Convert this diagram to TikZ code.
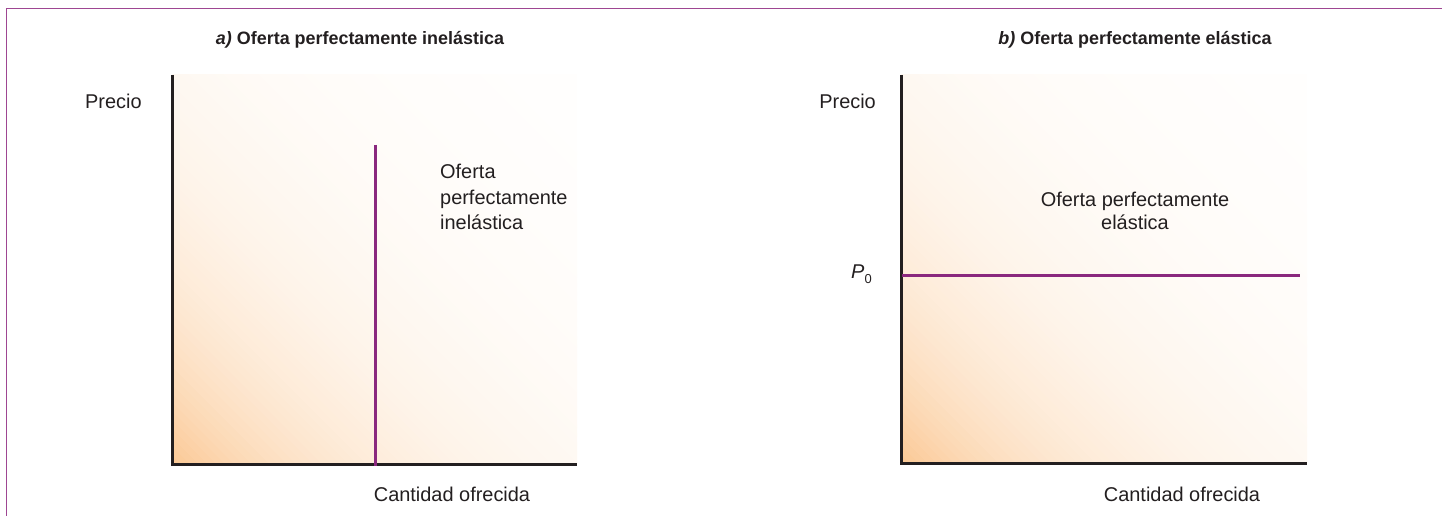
\documentclass[tikz,border=0pt]{standalone}
\usepackage{fontspec}
\setmainfont{Liberation Sans}
\definecolor{frameC}{RGB}{158,70,146}
\definecolor{curveC}{RGB}{138,40,126}
\definecolor{axisC}{RGB}{35,31,32}
\definecolor{oraA}{RGB}{251,200,148}
\tikzset{
  frameline/.style={draw=frameC, line width=1.3bp},
  axisline/.style={draw=axisC, line width=3bp},
  curveline/.style={draw=curveC, line width=3bp},
  lbl/.style={font=\fontsize{20}{24}\selectfont, text=axisC, inner sep=0pt},
  ttl/.style={font=\fontsize{18}{22}\selectfont\bfseries, text=axisC, inner sep=0pt}
}
\newcommand\gradpanel[4]{%
\begin{scope}
\clip (#1,#2) rectangle ++(#3,-#4);
\foreach \i in {0,...,89}{
 \pgfmathsetmacro\ca{(\i/90)*(#3+#4)}
 \pgfmathsetmacro\cb{((\i+1.4)/90)*(#3+#4)}
 \pgfmathsetmacro\pp{100*exp(-4.2*(\i+0.5)/90)}
 \fill[oraA!\pp!white] (#1+\ca-800,#2-800) -- (#1+\ca+800,#2+800) -- (#1+\cb+800,#2+800) -- (#1+\cb-800,#2-800) -- cycle;
}
\end{scope}}
\begin{document}
\begin{tikzpicture}[x=1bp,y=-1bp]
\useasboundingbox (0,0) rectangle (1442,516);
% frame
\coordinate (fl) at (6.5,516);
\coordinate (ftl) at (6.5,8.3);
\coordinate (fr) at (1442,8.3);
\draw[frameline] (fl) -- (ftl) -- (fr);
% ---------- panel a
\gradpanel{172}{464}{405}{389}
\coordinate (aO) at (172,464);
\coordinate (aT) at (172,75);
\coordinate (aR) at (577,464);
\draw[axisline] (aT) -- (aO) -- (aR);
\coordinate (aS1) at (375,145);
\coordinate (aS2) at (375,466);
\draw[curveline] (aS1) -- (aS2);
\node[ttl] (ta) at (360,40) {\textit{a)} Oferta perfectamente inelástica};
\node[lbl, anchor=west] (pa) at (85,101) {Precio};
\node[lbl] (qa) at (452,494) {Cantidad ofrecida};
\node[lbl, anchor=north west, align=left, font=\fontsize{20}{25.5}\selectfont] (sa) at (440,164) {Oferta\\perfectamente\\inelástica};
% ---------- panel b
\gradpanel{901}{463}{406}{388}
\coordinate (bO) at (901,463);
\coordinate (bT) at (901,75);
\coordinate (bR) at (1307,463);
\draw[axisline] (bT) -- (bO) -- (bR);
\coordinate (bS1) at (902,275);
\coordinate (bS2) at (1300,275);
\draw[curveline] (bS1) -- (bS2);
\node[ttl] (tb) at (1135,40) {\textit{b)} Oferta perfectamente elástica};
\node[lbl, anchor=east] (pb) at (876,101) {Precio};
\node[lbl] (qb) at (1182,494) {Cantidad ofrecida};
\node[lbl, align=center, font=\fontsize{20}{23}\selectfont] (sb) at (1135,211) {Oferta perfectamente\\elástica};
\node[lbl, anchor=west] (p0) at (851,274) {\textit{P}\raisebox{-0.5ex}{\fontsize{13}{15}\selectfont 0}};
\end{tikzpicture}
\end{document}
